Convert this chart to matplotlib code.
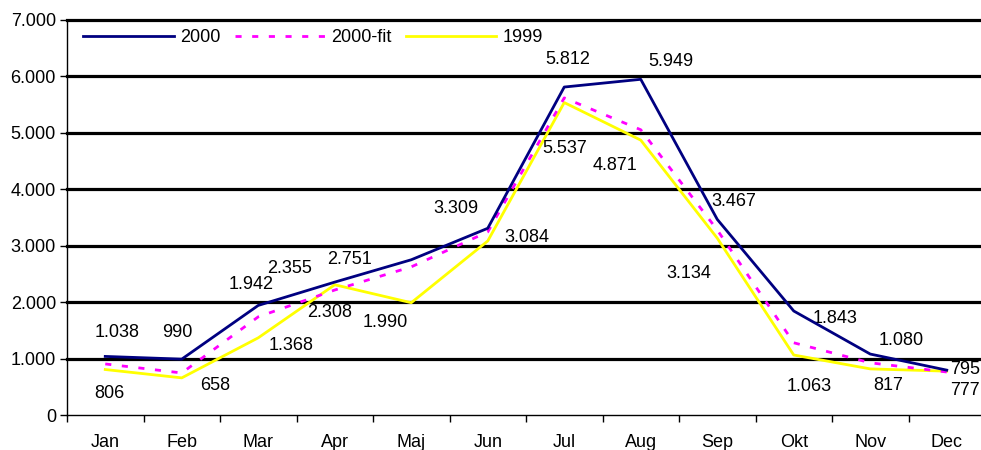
import numpy as np
import matplotlib.pyplot as plt
from matplotlib.ticker import FuncFormatter

plt.rcParams['font.family'] = ['Liberation Sans', 'DejaVu Sans']

months = ['Jan', 'Feb', 'Mar', 'Apr', 'Maj', 'Jun', 'Jul', 'Aug', 'Sep', 'Okt', 'Nov', 'Dec']
y2000 = [1038, 990, 1942, 2355, 2751, 3309, 5812, 5949, 3467, 1843, 1080, 795]
y2000_fit = [905, 745, 1740, 2215, 2625, 3245, 5620, 5055, 3280, 1280, 925, 762]
y1999 = [806, 658, 1368, 2308, 1990, 3084, 5537, 4871, 3134, 1063, 817, 777]

# label offsets in pixels (dx, dy)
off2000 = [(12, 24), (-4, 27), (-7, 21), (-45, 14), (-62, 0), (-32, 20),
           (3, 28), (30, 18), (17, 18), (41, -7), (31, 14), (18, 1)]
off1999 = [(4, -24), (33, -8), (33, -8), (-5, -28), (-26, -20), (39, 3),
           (0, -46), (-26, -25), (-28, -35), (15, -31), (18, -17), (18, -19)]

def fmt(v):
    return f'{v:,.0f}'.replace(',', '.')

fig = plt.figure(figsize=(9.81, 4.5), dpi=100)
ax = fig.add_axes([67/981, 35/450, 918/981, 395/450])

x = np.arange(len(months))

for yv in range(1000, 8000, 1000):
    ax.axhline(yv, color='black', lw=2.3, zorder=1, clip_on=False)

ax.plot(x, y2000, color='#000080', lw=2, label='2000', zorder=4)
ax.plot(x, y2000_fit, color='#ff00ff', lw=2, ls=(0, (2.2, 3.8)),
        dash_capstyle='butt', label='2000-fit', zorder=3)
ax.plot(x, y1999, color='#ffff00', lw=2, label='1999', zorder=2)

for i in range(len(months)):
    ax.annotate(fmt(y2000[i]), (x[i], y2000[i]), xytext=off2000[i],
                textcoords='offset pixels', ha='center', va='center', fontsize=13)
    ax.annotate(fmt(y1999[i]), (x[i], y1999[i]), xytext=off1999[i],
                textcoords='offset pixels', ha='center', va='center', fontsize=13)

ax.set_xlim(-0.5, 11.5)
ax.set_ylim(0, 7000)
ax.set_yticks(range(0, 8000, 1000))
ax.yaxis.set_major_formatter(FuncFormatter(lambda v, p: fmt(v)))
ax.set_xticks(x)
ax.set_xticklabels(months)
ax.set_xticks(np.arange(-0.5, 12, 1), minor=True)
ax.tick_params(axis='x', which='major', length=0, pad=14, labelsize=13)
ax.tick_params(axis='x', which='minor', length=5, direction='out', width=1)
ax.tick_params(axis='y', length=5, width=1, pad=3, labelsize=13)

for s in ['top', 'right']:
    ax.spines[s].set_visible(False)
ax.spines['left'].set_linewidth(1)
ax.spines['bottom'].set_linewidth(1)

ax.legend(loc='upper left', bbox_to_anchor=(0.004, 1.008), ncol=3, frameon=False,
          fontsize=13, handlelength=5, handletextpad=0.35, columnspacing=0.8,
          borderaxespad=0.3)

fig.savefig('out.png', dpi=100, facecolor='white')
